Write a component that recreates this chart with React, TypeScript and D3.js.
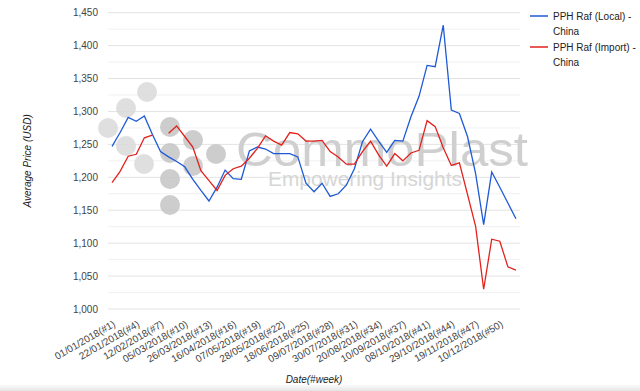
import React from 'react';
import * as d3 from 'd3';

// week labels (week 40 has no entry)
const weeks = [
  '01/01/2018(#1)', '08/01/2018(#2)', '15/01/2018(#3)', '22/01/2018(#4)', '29/01/2018(#5)',
  '05/02/2018(#6)', '12/02/2018(#7)', '19/02/2018(#8)', '26/02/2018(#9)', '05/03/2018(#10)',
  '12/03/2018(#11)', '19/03/2018(#12)', '26/03/2018(#13)', '02/04/2018(#14)', '09/04/2018(#15)',
  '16/04/2018(#16)', '23/04/2018(#17)', '30/04/2018(#18)', '07/05/2018(#19)', '14/05/2018(#20)',
  '21/05/2018(#21)', '28/05/2018(#22)', '04/06/2018(#23)', '11/06/2018(#24)', '18/06/2018(#25)',
  '25/06/2018(#26)', '02/07/2018(#27)', '09/07/2018(#28)', '16/07/2018(#29)', '23/07/2018(#30)',
  '30/07/2018(#31)', '06/08/2018(#32)', '13/08/2018(#33)', '20/08/2018(#34)', '27/08/2018(#35)',
  '03/09/2018(#36)', '10/09/2018(#37)', '17/09/2018(#38)', '24/09/2018(#39)', '08/10/2018(#41)',
  '15/10/2018(#42)', '22/10/2018(#43)', '29/10/2018(#44)', '05/11/2018(#45)', '12/11/2018(#46)',
  '19/11/2018(#47)', '26/11/2018(#48)', '03/12/2018(#49)', '10/12/2018(#50)', '17/12/2018(#51)',
  '24/12/2018(#52)',
];

const localPrice = [
  1247, 1268, 1291, 1285, 1293, 1265, 1239, 1231, 1224, 1216,
  1197, 1180, 1164, 1185, 1211, 1198, 1197, 1240, 1246, 1243,
  1236, 1236, 1236, 1231, 1191, 1178, 1191, 1171, 1175, 1188,
  1213, 1254, 1273, 1255, 1238, 1256, 1255, 1292, 1323, 1370,
  1368, 1431, 1302, 1297, 1262, 1206, 1128, 1208, 1185, 1161,
  1137,
];

const importPrice: (number | null)[] = [
  1192, 1209, 1232, 1235, 1260, 1264, null, 1267, 1278, 1262,
  1246, 1210, 1195, 1180, 1203, 1213, 1217, 1229, 1244, 1263,
  1255, 1249, 1268, 1266, 1255, 1255, 1256, 1239, 1231, 1220,
  1220, 1239, 1255, 1234, 1217, 1236, 1225, 1237, 1241, 1286,
  1277, 1245, 1218, 1222, 1174, 1126, 1030, 1106, 1103, 1064,
  1059,
];

const seriesNames = ['PPH Raf (Local) -', 'PPH Raf (Import) -'];
const seriesSub = 'China';
const colors = ['#1f5ad6', '#e3211c'];

const yTicks = [1000, 1050, 1100, 1150, 1200, 1250, 1300, 1350, 1400, 1450];
const yMinor = [1025, 1075, 1125, 1175, 1225, 1275, 1325, 1375, 1425];

// watermark dots [x, y, dark]
const logoDots: [number, number, number][] = [
  [108, 128, 0], [126, 108, 0], [147, 92, 0], [126, 146, 0], [144, 164, 0],
  [170, 127, 1], [170, 153, 1], [170, 179, 1], [170, 205, 1],
  [193, 140, 1], [193, 166, 1], [216, 154, 1],
];

export default function App() {
  const W = 640, H = 391;
  const left = 108, right = 520, top = 12.7, bottom = 309;
  const font = 'Arial, "Liberation Sans", Helvetica, sans-serif';

  const x = d3.scalePoint<number>().domain(d3.range(weeks.length)).range([left, right]).padding(0.5);
  const y = d3.scaleLinear().domain([1000, 1450]).range([bottom, top]);

  const line = d3.line<number | null>()
    .defined(d => d != null)
    .x((_, i) => x(i) as number)
    .y(d => y(d as number));

  const fmt = d3.format(',');

  return (
    <div style={{ position: 'absolute', left: 0, top: 0 }}>
      <svg width={W} height={H} style={{ display: 'block', fontFamily: font }}>
        <defs>
          <linearGradient id="shade" x1="0" y1="0" x2="0" y2="1">
            <stop offset="0" stopColor="#ffffff" />
            <stop offset="1" stopColor="#e4e4e4" />
          </linearGradient>
        </defs>
        <rect width={W} height={H} fill="#fff" />
        <rect x={0} y={384} width={W} height={7} fill="url(#shade)" />

        {/* grid */}
        {yMinor.map(v => (
          <line key={'m' + v} x1={left} x2={right} y1={y(v)} y2={y(v)} stroke="#f1f1f1" />
        ))}
        {yTicks.map(v => (
          <line key={'g' + v} x1={left} x2={right} y1={y(v)} y2={y(v)} stroke="#e3e3e3" />
        ))}

        {/* watermark */}
        <g>
          {logoDots.map(([cx, cy, dark], i) => (
            <circle key={i} cx={cx} cy={cy} r={10} fill={dark ? '#c4c4c4' : '#d9d9d9'} opacity={0.85} />
          ))}
          <text x={236} y={166} fontSize={48} fontWeight={300} fill="#cfcfcf" textLength={292} lengthAdjust="spacingAndGlyphs">CommoPlast</text>
          <text x={268} y={186} fontSize={20} fontWeight={300} fill="#d6d6d6" textLength={194} lengthAdjust="spacingAndGlyphs">Empowering Insights</text>
        </g>

        {/* y axis labels */}
        {yTicks.map(v => (
          <text key={'t' + v} x={98} y={y(v) + 3.5} fontSize={10} fill="#444" textAnchor="end">{fmt(v)}</text>
        ))}
        <text transform={`translate(31,${(top + bottom) / 2}) rotate(-90)`} fontSize={10} fontStyle="italic" fill="#222" textAnchor="middle">Average Price (USD)</text>

        {/* x axis labels */}
        {weeks.map((w, i) => i % 3 === 0 ? (
          <text key={w} transform={`translate(${(x(i) as number) + 4},326) rotate(-30)`} fontSize={10} fill="#444" textAnchor="end">{w}</text>
        ) : null)}
        <text x={(left + right) / 2} y={383} fontSize={10} fontStyle="italic" fill="#222" textAnchor="middle">Date(#week)</text>

        {/* series */}
        <path d={line(localPrice) || ''} fill="none" stroke={colors[0]} strokeWidth={1.3} />
        <path d={line(importPrice) || ''} fill="none" stroke={colors[1]} strokeWidth={1.3} />

        {/* legend */}
        {seriesNames.map((n, i) => (
          <g key={n} transform={`translate(530,${16 + i * 31})`}>
            <line x1={0} x2={18} y1={0} y2={0} stroke={colors[i]} strokeWidth={1.5} />
            <text x={23} y={4} fontSize={10} fill="#222">{n}</text>
            <text x={23} y={19} fontSize={10} fill="#222">{seriesSub}</text>
          </g>
        ))}
      </svg>
    </div>
  );
}
